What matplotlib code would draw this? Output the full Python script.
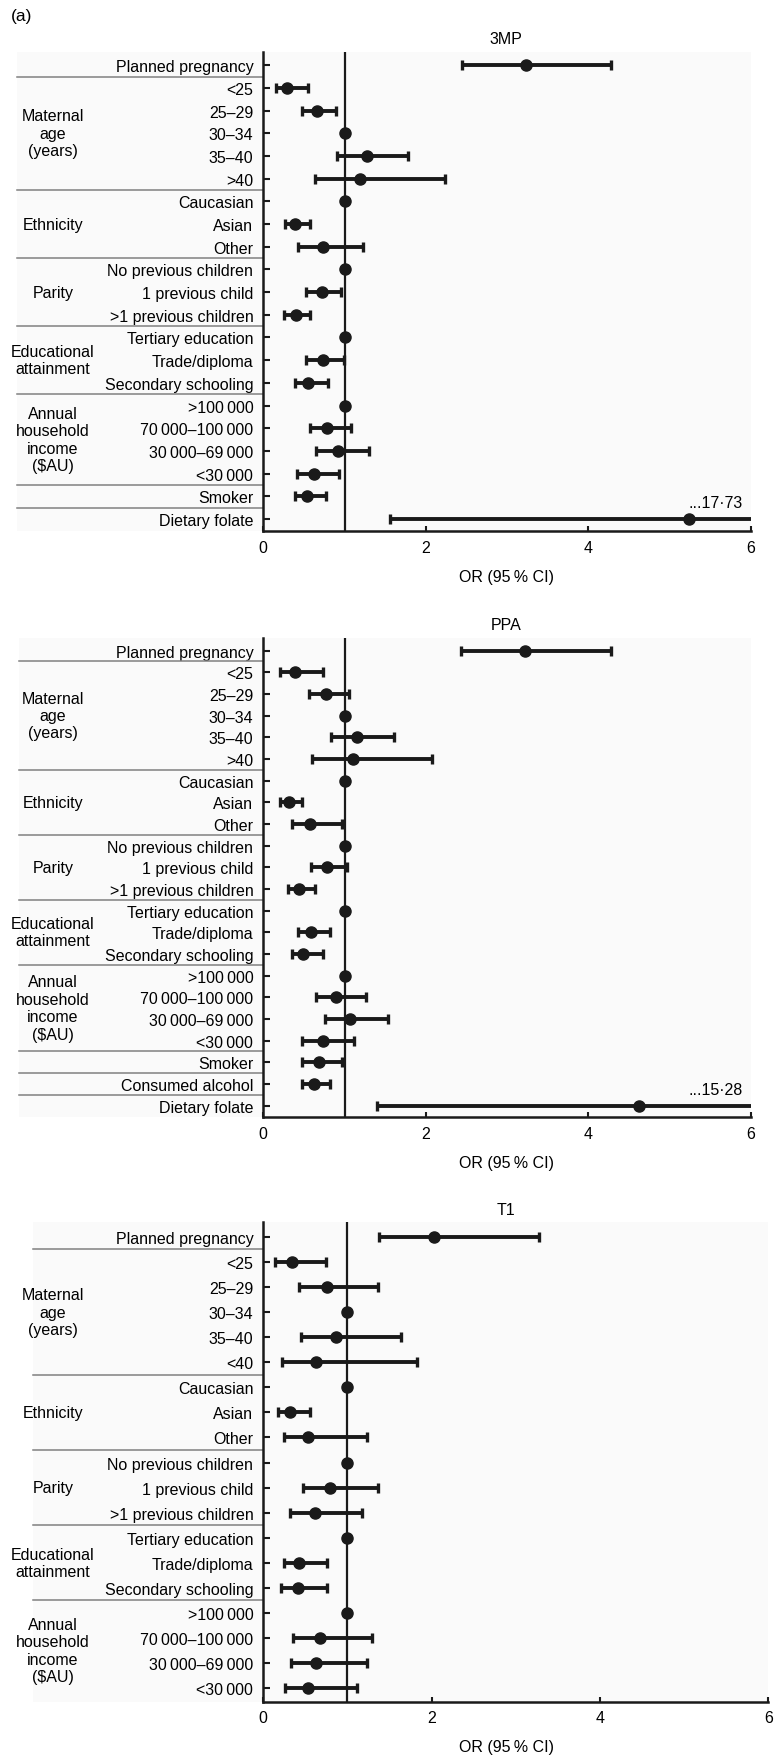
import matplotlib
matplotlib.use("Agg")
import matplotlib.pyplot as plt
import matplotlib.transforms as mtransforms
from matplotlib.patches import Rectangle
import numpy as np

plt.rcParams['font.family'] = ['Liberation Sans', 'DejaVu Sans']
plt.rcParams['font.size'] = 11.5

# row labels
ts = "\u2009"
rows_common = ["Planned pregnancy", "<25", "25–29", "30–34", "35–40", ">40",
               "Caucasian", "Asian", "Other",
               "No previous children", "1 previous child", ">1 previous children",
               "Tertiary education", "Trade/diploma", "Secondary schooling",
               ">100" + ts + "000", "70" + ts + "000–100" + ts + "000",
               "30" + ts + "000–69" + ts + "000", "<30" + ts + "000"]
rows_3mp = rows_common + ["Smoker", "Dietary folate"]
rows_ppa = rows_common + ["Smoker", "Consumed alcohol", "Dietary folate"]
rows_t1 = rows_common[:5] + ["<40"] + rows_common[6:]

group_labels = ["Maternal\nage\n(years)", "Ethnicity", "Parity",
                "Educational\nattainment", "Annual\nhousehold\nincome\n($AU)"]
group_rows = [(1, 5), (6, 8), (9, 11), (12, 14), (15, 18)]

# 3MP
or_3mp = [3.23, 0.29, 0.66, 1, 1.27, 1.19, 1, 0.39, 0.73, 1, 0.72, 0.40, 1, 0.73, 0.55,
          1, 0.78, 0.92, 0.62, 0.54, 5.24]
lo_3mp = [2.44, 0.16, 0.48, 1, 0.91, 0.63, 1, 0.27, 0.43, 1, 0.53, 0.26, 1, 0.53, 0.39,
          1, 0.57, 0.65, 0.42, 0.39, 1.56]
hi_3mp = [4.28, 0.55, 0.90, 1, 1.78, 2.23, 1, 0.57, 1.23, 1, 0.95, 0.58, 1, 0.99, 0.80,
          1, 1.08, 1.30, 0.93, 0.77, 17.73]
sep_3mp = [0, 5, 8, 11, 14, 18, 19]

# PPA
or_ppa = [3.22, 0.39, 0.77, 1, 1.15, 1.10, 1, 0.32, 0.58, 1, 0.78, 0.44, 1, 0.59, 0.49,
          1, 0.90, 1.07, 0.73, 0.68, 0.62, 4.62]
lo_ppa = [2.43, 0.21, 0.56, 1, 0.83, 0.60, 1, 0.21, 0.35, 1, 0.59, 0.30, 1, 0.43, 0.35,
          1, 0.65, 0.76, 0.48, 0.47, 0.48, 1.40]
hi_ppa = [4.28, 0.73, 1.05, 1, 1.61, 2.08, 1, 0.47, 0.97, 1, 1.03, 0.64, 1, 0.82, 0.73,
          1, 1.26, 1.54, 1.11, 0.97, 0.82, 15.28]
sep_ppa = [0, 5, 8, 11, 14, 18, 19, 20]

# T1
or_t1 = [2.03, 0.34, 0.76, 1, 0.86, 0.63, 1, 0.32, 0.53, 1, 0.79, 0.61, 1, 0.43, 0.41,
         1, 0.67, 0.63, 0.53]
lo_t1 = [1.37, 0.14, 0.42, 1, 0.45, 0.22, 1, 0.17, 0.25, 1, 0.47, 0.32, 1, 0.25, 0.21,
         1, 0.35, 0.33, 0.26]
hi_t1 = [3.28, 0.75, 1.36, 1, 1.64, 1.83, 1, 0.56, 1.23, 1, 1.36, 1.17, 1, 0.76, 0.76,
         1, 1.29, 1.23, 1.11]
sep_t1 = [0, 5, 8, 11, 14]

W, H = 775, 1756
BG = "#fafafa"
INK = "#1a1a1a"
L = 263.3

fig = plt.figure(figsize=(W / 100, H / 100), dpi=100)
fig.text(22 / W, 1 - 17 / H, "(a)", ha="center", va="center", fontsize=12.5)


def panel(top, bottom, right, bg_left, title, rows, ors, los, his, seps, note=None):
    ax = fig.add_axes([L / W, 1 - bottom / H, (right - L) / W, (bottom - top) / H])
    n = len(rows)
    y = np.arange(n)
    ors = np.array(ors)
    los = np.array(los)
    his = np.array(his)
    ax.set_facecolor(BG)
    fig.add_artist(Rectangle((bg_left / W, 1 - bottom / H), (L - bg_left) / W,
                             (bottom - top) / H, transform=fig.transFigure,
                             facecolor=BG, edgecolor="none", zorder=-1))
    ax.axvline(1, color=INK, lw=1.6, zorder=1)
    ax.errorbar(ors, y, xerr=[ors - los, his - ors], fmt="o", color=INK, ms=8,
                elinewidth=2.8, capsize=3.4, capthick=2.4, zorder=3)
    ax.set_xlim(0, 6)
    ax.set_ylim(n - 1 + 0.54, -0.58)
    ax.set_yticks(y)
    ax.set_yticklabels(rows)
    ax.set_xticks([0, 2, 4, 6])
    ax.tick_params(axis="y", direction="in", length=5, width=1.5, pad=7.2, colors=INK,
                   labelcolor="black")
    ax.tick_params(axis="x", direction="in", length=3.8, width=1.5, pad=6, colors=INK,
                   labelcolor="black")
    for s in ["top", "right"]:
        ax.spines[s].set_visible(False)
    for s in ["left", "bottom"]:
        ax.spines[s].set_linewidth(1.8)
        ax.spines[s].set_color(INK)

    tr = mtransforms.blended_transform_factory(fig.transFigure, ax.transData)
    for s in seps:
        ax.plot([bg_left / W, L / W], [s + 0.5, s + 0.5], transform=tr, clip_on=False,
                color="#808080", lw=1.1, zorder=2)
    for lab, (a, b) in zip(group_labels, group_rows):
        ax.text(53 / W, (a + b) / 2, lab, transform=tr, ha="center", va="center",
                linespacing=1.2)

    fig.text(506 / W, 1 - (top - 13) / H, title, ha="center", va="center")
    fig.text(506 / W, 1 - (bottom + 45) / H, "OR (95" + ts + "% CI)", ha="center",
             va="center")
    if note is not None:
        ax.text(5.9, n - 1 - 0.75, note, ha="right", va="center")
    return ax


panel(53, 532.3, 751, 17, "3MP", rows_3mp, or_3mp, lo_3mp, hi_3mp, sep_3mp, "...17·73")
panel(639, 1118.3, 751, 19, "PPA", rows_ppa, or_ppa, lo_ppa, hi_ppa, sep_ppa, "...15·28")
panel(1223.3, 1702.7, 768.3, 33, "T1", rows_t1, or_t1, lo_t1, hi_t1, sep_t1)

fig.savefig("out.png", dpi=100)
